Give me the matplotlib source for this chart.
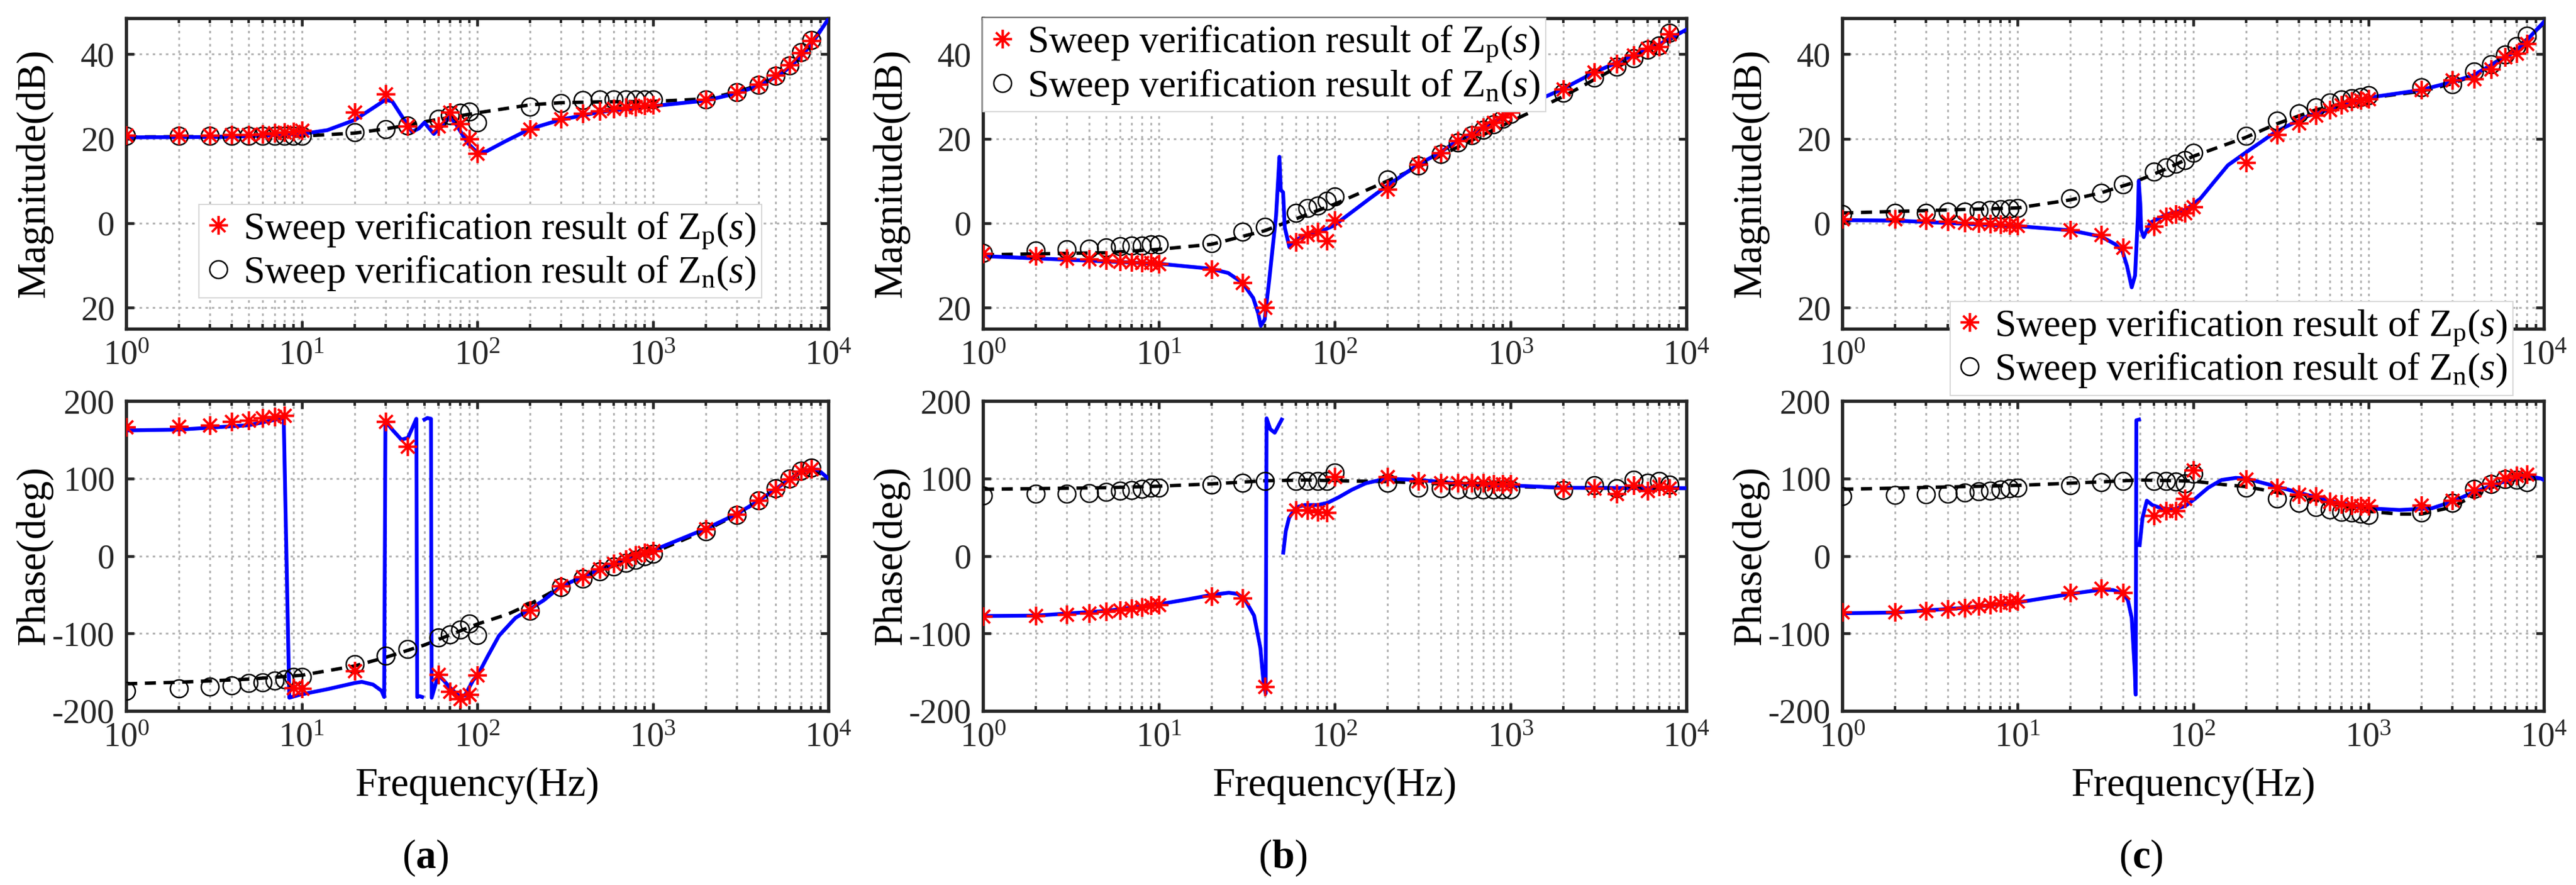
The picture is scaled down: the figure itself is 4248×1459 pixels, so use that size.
"""Sweep verification of Zp / Zn impedance models: three cases, magnitude and phase."""
import numpy as np
import matplotlib
matplotlib.use("Agg")
import matplotlib.pyplot as plt
from matplotlib.lines import Line2D
from matplotlib.ticker import LogLocator, NullFormatter, FixedLocator, FixedFormatter

plt.rcParams.update({
    "font.family": "Liberation Serif",
    "mathtext.fontset": "custom",
    "mathtext.rm": "Liberation Serif",
    "mathtext.it": "Liberation Serif:italic",
    "mathtext.bf": "Liberation Serif:bold",
    "axes.unicode_minus": False,
    "lines.scale_dashes": False,
})

W, H = 4248, 1459
nan = np.nan

# sweep frequencies (50 Hz skipped)
f_sw = [1, 2, 3, 4, 5, 6, 7, 8, 9, 10, 20, 30, 40, 60, 70, 80, 90, 100,
        200, 300, 400, 500, 600, 700, 800, 900, 1000,
        2000, 3000, 4000, 5000, 6000, 7000, 8000]

# ---------------- case (a) ----------------
a_mag_p = [20.8, 20.8, 20.8, 20.9, 21.0, 21.1, 21.3, 21.5, 21.7, 22.0, 26.3, 30.5, 23.0, 23.0, 26.3, 23.5, 19.9, 16.5,
           22.2, 24.6, 26.0, 26.6, 27.1, 27.4, 27.6, 27.8, 28.0, 29.2, 31.0, 32.8, 35.0, 37.4, 40.3, 43.2]
a_mag_n = [20.6, 20.6, 20.6, 20.6, 20.6, 20.6, 20.6, 20.6, 20.6, 20.6, 21.5, 22.3, 23.1, 24.6, 25.5, 26.1, 26.4, 23.8,
           27.6, 28.4, 29.1, 29.2, 29.2, 29.2, 29.2, 29.2, 29.2, 29.3, 31.0, 32.7, 34.9, 37.3, 40.4, 43.3]
a_ph_p = [166, 167, 169, 173, 175, 178, 180, 181, -170, -171, -148, 173, 141, -153, -175, -184, -179, -154,
          -70, -39, -27, -17, -10, -4, 1, 4, 7, 35, 54, 72, 86, 99, 109, 112]
a_ph_n = [-174, -171, -169, -167, -164, -163, -161, -159, -156, -156, -140, -129, -120, -105, -101, -95, -87, -102,
          -71, -40, -29, -20, -14, -9, -5, 0, 3, 32, 53, 72, 87, 100, 110, 114]

a_mag_zp_f = [1, 3.9, 10, 14, 20, 25.6, 30, 32.8, 38, 42.5, 46.5, 50, 56.6, 64, 70, 76, 88, 100, 113, 145,
              200, 300, 400, 500, 700, 1000, 2000, 3000, 4000, 5000, 6000, 7000, 8000, 10000]
a_mag_zp = [20.3, 20.4, 21.1, 22.0, 24.4, 27.3, 29.2, 28.8, 24.7, 21.6, 22.4, 23.8, 21.1, 23.3, 25.2, 23.3, 19.0, 16.7,
            17.0, 19.4, 22.3, 24.5, 25.5, 26.3, 27.0, 27.7, 29.0, 30.7, 32.5, 34.5, 36.8, 39.5, 42.3, 48.3]
a_mag_zn_f = [1, 10, 20, 30, 40, 50, 80, 100, 200, 300, 500, 1000, 2000, 3000, 4000, 5000, 6000, 7000, 8000, 10000]
a_mag_zn = [20.4, 20.6, 21.3, 22.3, 23.2, 24.0, 25.4, 26.1, 28.0, 28.5, 28.7, 28.8, 29.4, 31.0, 32.7, 34.7, 37.1,
            40.0, 42.7, 48.2]
a_ph_zp_f = [1, 2, 5, 7.9, 8.5, 9.8, 14, 20, 22, 25.5, 28.5, 29.5, 30, 32.8, 37, 40.3, 45, 45.5, 47, 48.5, nan,
             50, 52, 54.5, 55, 60, 64, 70, 79, 85, 95, 100, 115, 133, 165, 200, 240, 300, 400, 500, 700, 1000,
             2000, 3000, 4000, 5000, 6000, 7000, 8000, 8700, 10000]
a_ph_zp = [162, 163, 168.7, 178, -183, -179, -172, -164, -162.5, -166, -174, -182, 174, 163, 150, 152.5, 177, -182,
           -181, -182, nan, 176, 178, 177, -183, -153.5, -160, -170, -181, -180, -160, -155, -129, -103, -80, -68.5,
           -57, -39, -27, -17, -4, 7, 35, 54, 71, 86, 99, 108, 112, 111.4, 100]
a_ph_zn_f = [1, 2, 5, 10, 20, 30, 50, 100, 150, 200, 300, 400, 500, 700, 1000, 2000, 3000, 4000, 5000, 6000,
             7000, 8000, 10000]
a_ph_zn = [-165, -163, -159, -154, -142, -131, -115, -88, -75, -62, -40, -28, -19, -7, 4, 33, 53, 71, 86, 99,
           108, 112, 101]

# ---------------- case (b) ----------------
b_mag_p = [-7.2, -7.8, -8.3, -8.5, -8.8, -9.0, -9.2, -9.3, -9.4, -9.6, -11.0, -14.1, -20.0, -4.4, -2.7, -2.1, -4.2,
           0.7, 8.0, 13.9, 16.7, 19.5, 21.0, 22.6, 23.8, 25.1, 26.2, 31.7, 35.7, 37.8, 39.7, 41.3, 41.8, 44.8]
b_mag_n = [-7.0, -6.5, -6.2, -6.0, -5.8, -5.5, -5.4, -5.3, -5.1, -5.0, -4.7, -2.1, -0.9, 2.4, 3.5, 4.2, 5.3, 6.3,
           10.3, 13.6, 16.4, 19.0, 20.8, 22.1, 23.4, 24.6, 25.8, 30.8, 34.4, 37.0, 39.0, 41.0, 42.0, 45.0]
b_ph_p = [-78, -77, -75.5, -74, -72, -70, -68, -66, -64, -63, -52, -54.5, -169, 59, 59, 57, 56, 102,
          102, 96.5, 94, 94, 94, 94, 93, 93, 92.5, 87, 87, 80, 91, 84, 89.5, 87.5]
b_ph_n = [78, 80, 80, 81, 82.5, 84, 85, 86.5, 88, 88, 92, 94, 96.5, 96.5, 96.5, 96.5, 96.5, 108,
          94, 88, 87, 85.5, 85.5, 85.5, 85.5, 86, 86, 85, 91, 87, 98, 94, 96.5, 92]

b_mag_zp_f = [1, 10, 19.8, 24.8, 29.9, 34.4, 36.7, 38, 40, 42.4, 46.4, 48.5, 49.4, 50.9, 52, 55.3, 60.7, 72.8, 87,
              98.8, 117, 158, 198, 299, 398, 497, 710, 1000, 1990, 2970, 4970, 6940, 10000]
b_mag_zp = [-7.8, -9.6, -10.8, -11.8, -14.1, -17.7, -21.3, -24.3, -22.8, -13.6, 1.7, 15.7, 7.8, 7.3, -1.0, -5.7,
            -3.9, -2.4, -1.6, -0.6, 1.7, 5.8, 8.8, 13.9, 16.7, 19.5, 22.6, 26.2, 31.8, 35.6, 39.7, 42.2, 45.8]
b_mag_zn_f = [1, 5, 10, 20, 40, 60, 100, 200, 300, 500, 1000, 2000, 5000, 10000]
b_mag_zn = [-7.5, -7.0, -6.2, -5.0, -1.8, 1.0, 4.5, 10.0, 13.3, 18.0, 24.0, 30.0, 39.0, 45.5]
b_ph_zp_f = [1, 2, 5, 10, 14.6, 20, 25, 28, 30.8, 34.8, 37.8, 39.3, 40.5, 41, 43, 45.6, 50, nan,
             51, 52.7, 55, 57.6, 61, 67.5, 80, 91, 105, 125, 150, 181, 216, 300, 500, 1000, 2000, 5000, 10000]
b_ph_zp = [-77.5, -77, -71, -62.4, -56, -50.3, -47.5, -49, -56, -77, -119, -161, -177.6, 177.6, 163.6, 159, 176,
           nan, 4.2, 32, 49, 56, 63, 65.7, 65.7, 68.5, 75.5, 85.3, 93.7, 98, 99.3, 98, 93.7, 91, 88, 87.5, 87.5]
b_ph_zn_f = [1, 5, 10, 20, 40, 70, 100, 200, 500, 1000, 2000, 10000]
b_ph_zn = [86, 88, 90, 93, 97, 98, 97, 96, 92, 89.5, 88, 87]

# ---------------- case (c) ----------------
c_mag_p = [1.0, 1.0, 0.7, 0.4, 0.1, 0.0, -0.2, -0.3, -0.5, -0.6, -1.6, -2.8, -5.8, -0.7, 1.5, 2.1, 2.4, 3.8,
           14.3, 20.9, 23.7, 25.6, 26.8, 28.0, 28.8, 29.1, 29.4, 31.6, 33.9, 34.2, 36.5, 39.3, 40.2, 42.4]
c_mag_n = [2.1, 2.4, 2.4, 2.7, 2.7, 3.0, 3.1, 3.3, 3.4, 3.5, 5.8, 7.2, 9.2, 12.2, 13.2, 14.0, 14.9, 16.6,
           20.6, 24.3, 26.0, 27.4, 28.6, 29.2, 29.6, 29.9, 30.2, 32.2, 32.8, 35.9, 37.6, 39.9, 41.9, 44.4]
c_ph_p = [-72.7, -72.5, -70.8, -68.5, -67, -64.3, -63, -60.7, -59.6, -58.7, -47.5, -42, -47.5, 51.7, 58.7, 58.7,
          74, 110.6, 99.4, 88, 79.7, 77, 70, 67, 65.7, 64.5, 64.3, 65.7, 71.3, 85.3, 93.7, 100.8, 103.6, 105]
c_ph_n = [77, 78.3, 79.7, 80.5, 81.6, 83, 84, 86, 87, 88, 91, 95, 96.5, 96.5, 96.5, 96, 93.7, 106,
          88, 74, 68.5, 63, 59.6, 57, 55.7, 54.5, 53, 56, 68.5, 86.7, 92.4, 99.4, 98, 95]

c_mag_zp_f = [1, 2, 10, 20, 30, 36, 39.6, 42, 44.7, 46.7, 48.5, 49, 50, 50.6, 52.3, 57, 71, 91, 110, 132, 158,
              198, 298, 454, 660, 1000, 1990, 3000, 3970, 5400, 6930, 7990, 10000]
c_mag_zp = [0.7, 0.6, -0.7, -1.7, -3.2, -5.0, -6.7, -10.1, -15.2, -12.4, 1.8, 10.0, 4.7, -1.6, -3.3, 0.1, 2.1, 3.2,
            5.8, 9.8, 13.7, 16.6, 21.7, 25.4, 27.4, 29.7, 31.5, 33.4, 35.0, 38.2, 40.7, 43.3, 47.6]
c_mag_zn_f = [1, 10, 20, 30, 45, 70, 100, 200, 300, 500, 1000, 2000, 3000, 4000, 6000, 8000, 10000]
c_mag_zn = [2.4, 3.6, 5.5, 7.2, 9.5, 12.8, 15.8, 20.3, 23.5, 26.8, 29.6, 31.2, 33.0, 35.0, 39.5, 43.5, 47.3]
c_ph_zp_f = [1, 2, 5, 10, 20, 30, 35, 40, 42.5, 44.7, 46.5, 47.1, 47.5, 49.2, nan,
             49.6, 51.5, 54.5, 58.5, 66, 77, 90, 103, 122, 145, 175, 200, 300, 455, 670, 1000, 1500, 2300,
             3000, 4000, 5500, 8000, 9600, 10000]
c_ph_zp = [-74, -73, -67, -60, -49, -43.5, -44, -49, -57, -80, -147, -179, 175, 176, nan,
           14, 49, 71.3, 65.7, 61.5, 60, 64.3, 74, 88, 98, 100.7, 100, 89.5, 78.3, 68.5, 61.5, 59.3, 61.5,
           70, 82.5, 93.7, 103.5, 100, 98]
c_ph_zn_f = [1, 10, 30, 50, 100, 150, 200, 300, 500, 1000, 1500, 2000, 3000, 4000, 5000, 7000, 10000]
c_ph_zn = [86, 91, 95.6, 98, 96.5, 92, 89.5, 82, 72, 57.5, 54, 54, 63, 78, 88, 99, 100]

CASES = [
    ("a", (a_mag_zp_f, a_mag_zp, a_mag_zn_f, a_mag_zn, a_mag_p, a_mag_n),
          (a_ph_zp_f, a_ph_zp, a_ph_zn_f, a_ph_zn, a_ph_p, a_ph_n)),
    ("b", (b_mag_zp_f, b_mag_zp, b_mag_zn_f, b_mag_zn, b_mag_p, b_mag_n),
          (b_ph_zp_f, b_ph_zp, b_ph_zn_f, b_ph_zn, b_ph_p, b_ph_n)),
    ("c", (c_mag_zp_f, c_mag_zp, c_mag_zn_f, c_mag_zn, c_mag_p, c_mag_n),
          (c_ph_zp_f, c_ph_zp, c_ph_zn_f, c_ph_zn, c_ph_p, c_ph_n)),
]

DECADES = [1, 10, 100, 1000, 10000]
DEC_LABELS = [r"$10^{0}$", r"$10^{1}$", r"$10^{2}$", r"$10^{3}$", r"$10^{4}$"]

# layout in pixels (left, width) per column, (top, bottom) per row
COLS = [(208, 1158), (1621, 1160), (3038, 1157)]
ROWS = [(30, 542), (661, 1172)]
STAR = (8, 2, 0)
LEG = {"a": (0.104, 0.400), "b": (0.0, 1.0), "c": (0.154, 0.087)}
TXT = "#262626"


def px_axes(col, row):
    l, w = COLS[col]
    t, b = ROWS[row]
    return fig.add_axes([l / W, 1 - b / H, w / W, (b - t) / H])


def style(ax, ylim, yticks, ylabels, xlabels):
    ax.set_xscale("log")
    ax.set_xlim(1, 1e4)
    ax.set_ylim(*ylim)
    ax.xaxis.set_major_locator(FixedLocator(DECADES))
    ax.xaxis.set_major_formatter(FixedFormatter(xlabels))
    ax.xaxis.set_minor_locator(LogLocator(base=10, subs=np.arange(2, 10), numticks=20))
    ax.xaxis.set_minor_formatter(NullFormatter())
    ax.yaxis.set_major_locator(FixedLocator(yticks))
    ax.yaxis.set_major_formatter(FixedFormatter(ylabels))
    ax.tick_params(which="both", direction="in", top=True, right=True, colors=TXT,
                   labelsize=13.5, pad=4.5)
    ax.tick_params(which="major", length=3.2, width=1.1)
    ax.tick_params(which="minor", length=1.9, width=1.0)
    ax.grid(True, which="major", ls=(0, (1, 1.6)), color="#b4b4b4", lw=0.75)
    ax.grid(True, which="minor", axis="x", ls=(0, (1, 1.6)), color="#b4b4b4", lw=0.75)
    ax.set_axisbelow(True)
    for sp in ax.spines.values():
        sp.set_linewidth(1.3)
        sp.set_color(TXT)


def draw(ax, data):
    zp_f, zp, zn_f, zn, pts_p, pts_n = data
    ax.plot(zn_f, zn, color="black", lw=1.35, dashes=(4.4, 3.0), zorder=2)
    ax.plot(zp_f, zp, color="#0000ff", lw=1.5, zorder=3)
    ax.plot(f_sw, pts_n, ls="none", marker="o", ms=7.0, mfc="none", mec="black", mew=0.6, zorder=4)
    ax.plot(f_sw, pts_p, ls="none", marker=STAR, ms=7.4, color="red", mew=0.85, zorder=5)


fig = plt.figure(figsize=(W / 300, H / 300), dpi=300)

for i, (key, mag, ph) in enumerate(CASES):
    # the legend of case (c) sits over the middle decade labels of its magnitude axis
    mag_xlabels = DEC_LABELS if key != "c" else [DEC_LABELS[0], "", "", "", DEC_LABELS[4]]
    axm = px_axes(i, 0)
    style(axm, (-25, 48.5), [-20, 0, 20, 40], ["20", "0", "20", "40"], mag_xlabels)
    draw(axm, mag)
    axp = px_axes(i, 1)
    style(axp, (-200, 200), [-200, -100, 0, 100, 200], ["-200", "-100", "0", "100", "200"], DEC_LABELS)
    draw(axp, ph)

    h = [Line2D([0], [0], ls="none", marker=STAR, ms=7.4, color="red", mew=0.85,
                label=r"Sweep verification result of $\mathrm{Z}_{\mathrm{p}}(s)$"),
         Line2D([0], [0], ls="none", marker="o", ms=7.0, mfc="none", mec="black", mew=0.6,
                label=r"Sweep verification result of $\mathrm{Z}_{\mathrm{n}}(s)$")]
    leg = axm.legend(handles=h, loc="upper left", bbox_to_anchor=LEG[key], borderaxespad=0,
                     fontsize=15.2, frameon=True, fancybox=False, framealpha=1, edgecolor="#d8d8d8",
                     borderpad=0.15, labelspacing=0.1, handlelength=0.7, handletextpad=0.3)
    leg.get_frame().set_linewidth(0.5)
    leg.set_zorder(10)

    l, w = COLS[i]
    fig.text((l - 152) / W, 1 - 286 / H, "Magnitude(dB)", rotation=90, ha="center", va="center", fontsize=16)
    fig.text((l - 152) / W, 1 - 916 / H, "Phase(deg)", rotation=90, ha="center", va="center", fontsize=16)
    fig.text((l + w / 2) / W, 1 - 1295 / H, "Frequency(Hz)", ha="center", va="center", fontsize=16)
    fig.text((l + w / 2 - 86) / W, 1 - 1414 / H, r"($\mathbf{%s}$)" % key, ha="center", va="center",
             fontsize=16)

fig.savefig("out.png", dpi=300)
print("saved out.png")
